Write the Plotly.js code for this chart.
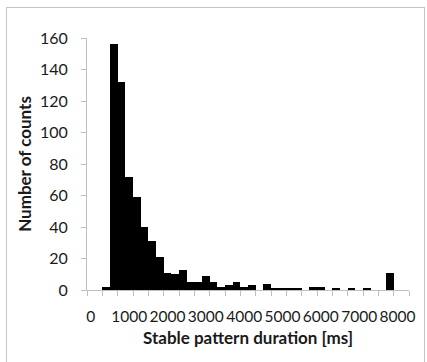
<!DOCTYPE html>
<html>
<head>
<meta charset="utf-8">
<script src="https://cdn.plot.ly/plotly-3.0.1.min.js"></script>
<style>
  html, body { margin: 0; padding: 0; background: #ffffff; }
  #wrap { position: relative; width: 427px; height: 362px; overflow: hidden; }
  #frame { position: absolute; left: 6px; top: 7px; width: 419px; height: 370px; border: 1px solid #c4c4c4; box-sizing: border-box; pointer-events: none; }
  #chart { position: absolute; left: 0; top: 0; width: 427px; height: 362px; }
</style>
</head>
<body>
<div id="wrap">
  <div id="chart"></div>
  <div id="frame"></div>
</div>
<script>
// Histogram bins (ms) and counts
const durations = [0, 200, 400, 600, 800, 1000, 1200, 1400, 1600, 1800,
                   2000, 2200, 2400, 2600, 2800, 3000, 3200, 3400, 3600, 3800,
                   4000, 4200, 4400, 4600, 4800, 5000, 5200, 5400, 5600, 5800,
                   6000, 6200, 6400, 6600, 6800, 7000, 7200, 7400, 7600, 7800,
                   8000, 8200];
const counts = [0, 0, 2, 156, 132, 72, 59, 40, 31, 21,
                11, 10, 13, 5, 5, 9, 5, 2, 3, 5,
                2, 3, 0, 4, 1, 1, 1, 1, 0, 2,
                2, 0, 1, 0, 1, 0, 1, 0, 0, 11,
                0, 0];
const xTickVals = [0, 1000, 2000, 3000, 4000, 5000, 6000, 7000, 8000];
const xTickText = ["0", "1000", "2000", "3000", "4000", "5000", "6000", "7000", "8000"];
const yTickVals = [0, 20, 40, 60, 80, 100, 120, 140, 160];

const binWidth = 200;
const axisGray = '#bfbfbf';
const textColor = '#1a1a1a';
const fontFamily = 'Lato, "Open Sans", sans-serif';

const trace = {
  type: 'bar',
  x: durations,
  y: counts,
  width: binWidth,
  marker: { color: '#000000', line: { width: 0 } },
  hoverinfo: 'x+y'
};

const layout = {
  width: 427,
  height: 362,
  margin: { l: 87.3, r: 18.4, t: 37.7, b: 71.5, pad: 0 },
  paper_bgcolor: 'rgba(0,0,0,0)',
  plot_bgcolor: 'rgba(0,0,0,0)',
  showlegend: false,
  bargap: 0,
  font: { family: fontFamily, color: textColor, size: 16 },
  xaxis: {
    range: [durations[0] - binWidth / 2, durations[durations.length - 1] + binWidth / 2],
    tickmode: 'array',
    tickvals: xTickVals,
    ticktext: xTickText,
    tickangle: 0,
    ticks: '',
    ticklabelstandoff: 12,
    minor: { tickmode: 'linear', tick0: durations[0] - binWidth / 2, dtick: 2 * binWidth,
             ticks: 'outside', ticklen: 5, tickwidth: 1, tickcolor: axisGray, showgrid: false },
    showgrid: false,
    zeroline: false,
    showline: true,
    linecolor: axisGray,
    linewidth: 1,
    tickfont: { family: fontFamily, size: 15.5, color: textColor },
    title: { text: '<b>Stable pattern duration [ms]</b>', font: { family: fontFamily, size: 17, color: textColor }, standoff: 8 },
    automargin: false,
    fixedrange: true
  },
  yaxis: {
    range: [0, 160],
    tickmode: 'array',
    tickvals: yTickVals,
    ticks: 'outside',
    ticklen: 5,
    tickwidth: 1,
    tickcolor: axisGray,
    ticklabelstandoff: 10,
    showgrid: false,
    zeroline: false,
    showline: true,
    linecolor: axisGray,
    linewidth: 1,
    tickfont: { family: fontFamily, size: 16, color: textColor },
    title: { text: '<b>Number of counts</b>', font: { family: fontFamily, size: 17, color: textColor }, standoff: 4 },
    automargin: false,
    fixedrange: true
  }
};

Plotly.newPlot('chart', [trace], layout, { displayModeBar: false, staticPlot: true });
</script>
</body>
</html>
